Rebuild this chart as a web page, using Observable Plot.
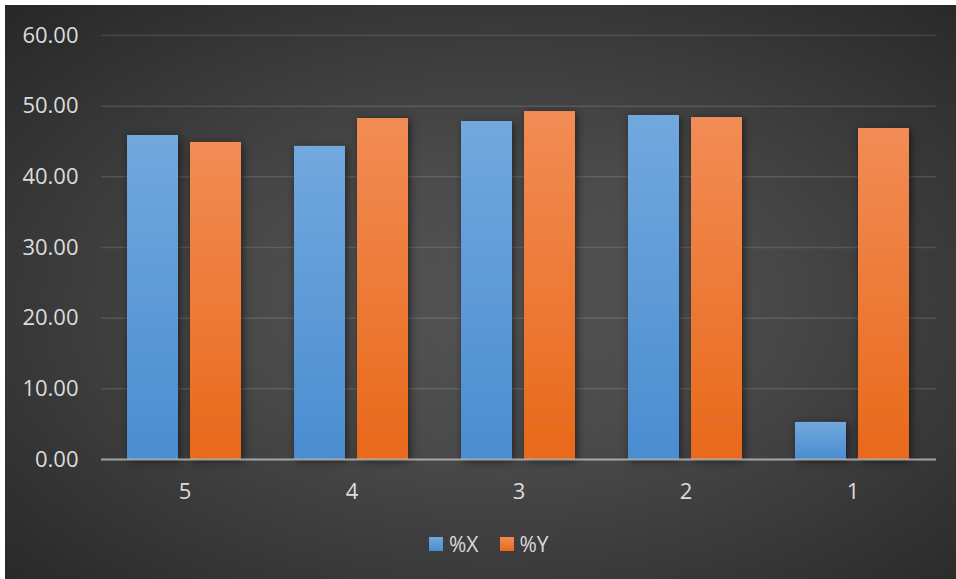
<!DOCTYPE html>
<html>
<head>
<meta charset="utf-8">
<script src="https://cdn.jsdelivr.net/npm/d3@7"></script>
<script src="https://cdn.jsdelivr.net/npm/@observablehq/plot@0.6"></script>
<style>
  html, body { margin: 0; padding: 0; background: #ffffff; }
  #frame {
    position: absolute; left: 5px; top: 5px; width: 951px; height: 574px; overflow: hidden;
    background: radial-gradient(ellipse farthest-corner at 52% 52%, #545454 0%, #4a4a4a 35%, #272727 100%);
    font-family: "Open Sans", sans-serif;
  }
  #chart { position: absolute; left: 0; top: 0; }
  #legend {
    position: absolute; left: 424px; top: 525px; height: 28px;
    display: flex; align-items: center; color: #d9d9d9; font-size: 21px;
  }
  #legend .item { display: flex; align-items: center; margin-right: 21px; }
  #legend .sw { width: 14px; height: 14px; margin-right: 6px; }
</style>
</head>
<body>
<div id="frame">
  <div id="chart"></div>
  <div id="legend"></div>
</div>
<script>
// Categories along the bottom, in display order
const categories = ["5", "4", "3", "2", "1"];
// Series names
const seriesNames = ["%X", "%Y"];
// Values per category, one array per series
const valuesX = [45.85, 44.30, 47.83, 48.68, 5.24];
const valuesY = [44.86, 48.25, 49.24, 48.39, 46.84];
// Gridline / tick values on the value axis
const yTicks = [0, 10, 20, 30, 40, 50, 60];

const rowsX = categories.map((c, i) => ({cat: c, series: seriesNames[0], value: valuesX[i]}));
const rowsY = categories.map((c, i) => ({cat: c, series: seriesNames[1], value: valuesY[i]}));

const ns = "http://www.w3.org/2000/svg";
// Gradient fills and the soft drop shadow under the bars
const defs = () => {
  const d = document.createElementNS(ns, "defs");
  d.innerHTML = `
    <linearGradient id="gradX" x1="0" y1="0" x2="0" y2="1">
      <stop offset="0" stop-color="#72a8de"/>
      <stop offset="1" stop-color="#4a8dd0"/>
    </linearGradient>
    <linearGradient id="gradY" x1="0" y1="0" x2="0" y2="1">
      <stop offset="0" stop-color="#f28c55"/>
      <stop offset="1" stop-color="#e8691a"/>
    </linearGradient>
    <filter id="barShadow" x="-30%" y="-10%" width="160%" height="130%">
      <feDropShadow dx="2" dy="2" stdDeviation="4" flood-color="#000" flood-opacity="0.55"/>
    </filter>`;
  return d;
};

const chart = Plot.plot({
  width: 951,
  height: 510,
  marginLeft: 95,
  marginRight: 19,
  marginTop: 30,
  marginBottom: 56,
  style: {background: "transparent", color: "#dcdcdc", fontFamily: "Open Sans, sans-serif", fontSize: "22px"},
  fx: {domain: categories, padding: 0},
  x: {domain: seriesNames, paddingInner: 0.1875, paddingOuter: 0.4016, axis: null},
  y: {domain: [0, 60]},
  marks: [
    defs,
    Plot.ruleY(yTicks.slice(1), {stroke: "#ffffff", strokeOpacity: 0.12, strokeWidth: 1.5}),
    Plot.barY(rowsX, {fx: "cat", x: "series", y: "value", fill: "url(#gradX)"}),
    Plot.barY(rowsY, {fx: "cat", x: "series", y: "value", fill: "url(#gradY)"}),
    Plot.ruleY([0], {stroke: "#c8c8c8", strokeOpacity: 0.75, strokeWidth: 2}),
    Plot.axisY(yTicks, {tickSize: 0, tickPadding: 23, tickFormat: d => d.toFixed(2), label: null, fontSize: 22}),
    Plot.axisFx({anchor: "bottom", tickSize: 0, tickPadding: 24, label: null, fontSize: 22})
  ]
});

chart.querySelectorAll('g[aria-label="bar"]').forEach(g => g.setAttribute("filter", "url(#barShadow)"));
document.getElementById("chart").appendChild(chart);

// Legend below the plot
const legend = document.getElementById("legend");
seriesNames.forEach((name, i) => {
  const item = document.createElement("div");
  item.className = "item";
  const sw = document.createElement("div");
  sw.className = "sw";
  sw.style.background = `linear-gradient(${i === 0 ? "#72a8de, #4a8dd0" : "#f28c55, #e8691a"})`;
  const label = document.createElement("span");
  label.textContent = name;
  item.appendChild(sw);
  item.appendChild(label);
  legend.appendChild(item);
});
</script>
</body>
</html>
